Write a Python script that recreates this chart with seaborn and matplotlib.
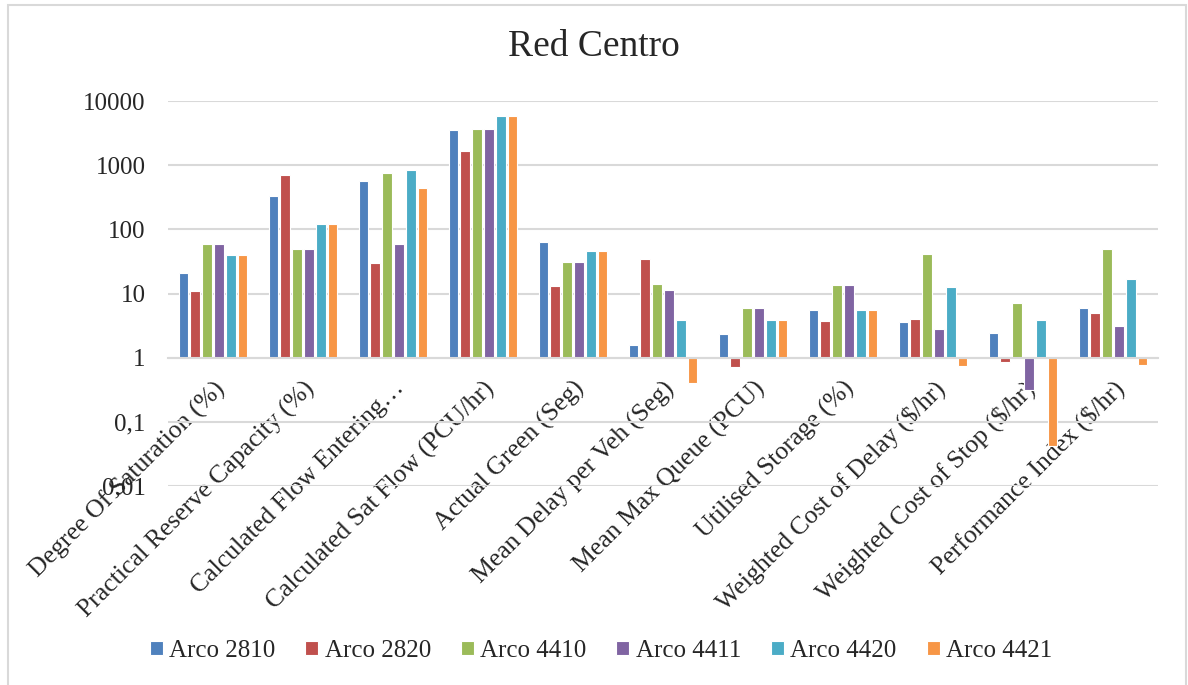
import numpy as np
import pandas as pd
import seaborn as sns
import matplotlib.pyplot as plt
from matplotlib.patches import Rectangle

# categories on the x axis
metrics = ['Degree Of Saturation (%)', 'Practical Reserve Capacity (%)',
           'Calculated Flow Entering…', 'Calculated Sat Flow (PCU/hr)',
           'Actual Green (Seg)', 'Mean Delay per Veh (Seg)',
           'Mean Max Queue (PCU)', 'Utilised Storage (%)',
           'Weighted Cost of Delay ($/hr)', 'Weighted Cost of Stop ($/hr)',
           'Performance Index ($/hr)']

# values (log axis, bars start at 1)
arco_2810 = [21, 332, 569, 3566, 63, 1.6, 2.35, 5.6, 3.55, 2.45, 6.0]
arco_2820 = [11, 706, 30, 1675, 12.9, 34, 0.72, 3.75, 4.05, 0.86, 4.9]
arco_4410 = [59, 49, 759, 3650, 31, 14.2, 5.9, 13.8, 41.7, 7.1, 49.3]
arco_4411 = [59, 49, 60, 3650, 31, 11.5, 5.9, 13.8, 2.8, 0.31, 3.1]
arco_4420 = [40, 123, 836, 5760, 46, 3.85, 3.85, 5.5, 12.6, 3.9, 16.7]
arco_4421 = [40, 123, 448, 5760, 46, 0.41, 3.85, 5.5, 0.74, 0.042, 0.78]

series = {'Arco 2810': arco_2810, 'Arco 2820': arco_2820, 'Arco 4410': arco_4410,
          'Arco 4411': arco_4411, 'Arco 4420': arco_4420, 'Arco 4421': arco_4421}
colors = ['#4F81BD', '#C0504D', '#9BBB59', '#8064A2', '#4BACC6', '#F79646']

tick_vals = [0.01, 0.1, 1, 10, 100, 1000, 10000]
tick_labels = ['0,01', '0,1', '1', '10', '100', '1000', '10000']

rows = []
for name, vals in series.items():
    for m, v in zip(metrics, vals):
        rows.append({'metric': m, 'arco': name, 'value': v})
df = pd.DataFrame(rows)
# Excel style log axis: bars grow from 1, so plot decades on a linear axis
df['decades'] = np.log10(df['value'])

sns.set_theme(style='white')
plt.rcParams['font.family'] = ['Liberation Serif', 'DejaVu Serif']

fig = plt.figure(figsize=(11.88, 6.85), dpi=100)
ax = fig.add_axes([168/1188, 1 - 486/685, (1158-168)/1188, (486-101)/685])

sns.barplot(data=df, x='metric', y='decades', hue='arco', palette=colors,
            saturation=1, width=0.79, gap=0.2, edgecolor='white',
            linewidth=0.8, ax=ax)

ax.set_ylim(-2, 4)
ax.set_xlim(-0.5, len(metrics) - 0.5)
ax.set_yticks(np.log10(tick_vals))
ax.set_yticklabels(tick_labels, fontsize=18)
ax.yaxis.grid(True, color='#D9D9D9', linewidth=1.5)
ax.set_axisbelow(True)
ax.tick_params(axis='y', length=0, pad=16)
ax.set_xlabel('')
ax.set_ylabel('')

for side in ['top', 'left', 'right']:
    ax.spines[side].set_visible(False)
ax.spines['bottom'].set_position(('data', 0))
ax.spines['bottom'].set_color('#D9D9D9')
ax.spines['bottom'].set_linewidth(1.5)

ax.set_xticks(range(len(metrics)))
ax.set_xticklabels(metrics, rotation=45, ha='right', va='top',
                   rotation_mode='anchor', fontsize=18.5)
ax.tick_params(axis='x', length=0, pad=14)

handles, labels = ax.get_legend_handles_labels()
ax.legend(handles, labels, loc='center', bbox_to_anchor=(601/1188, 1 - 651/685),
          bbox_transform=fig.transFigure, ncol=6, frameon=False, fontsize=18,
          handlelength=0.52, handleheight=0.52, handletextpad=0.25,
          columnspacing=1.2)

fig.text(0.5, 1 - 47/685, 'Red Centro', ha='center', va='center', fontsize=27)

fig.patches.append(Rectangle((8/1188, -0.02), (1186-8)/1188, 1.02 - 5/685,
                             transform=fig.transFigure, fill=False,
                             edgecolor='#D9D9D9', linewidth=1.5))

fig.savefig('out.png', dpi=100)
